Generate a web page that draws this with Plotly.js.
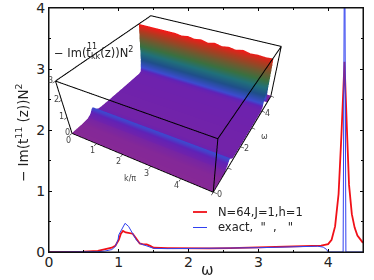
<!DOCTYPE html>
<html><head><meta charset="utf-8">
<script src="https://cdn.plot.ly/plotly-3.0.1.min.js"></script>
<style>html,body{margin:0;padding:0;background:#fff}#c{width:374px;height:280px}</style></head>
<body><div id="c"></div>
<script>
const redW=[0,0.3,0.5,0.7,0.8,0.9,0.95,1.0,1.03,1.06,1.1,1.15,1.2,1.25,1.3,1.35,1.4,1.45,1.5,1.7,2,2.3,2.6,3,3.3,3.6,3.9,4.0,4.05,4.1,4.15,4.19,4.235,4.27,4.3,4.34,4.38,4.42,4.46,4.5];
const redV=[0,0,0.005,0.02,0.04,0.07,0.1,0.2,0.3,0.345,0.32,0.315,0.3,0.22,0.14,0.125,0.125,0.1,0.07,0.065,0.06,0.06,0.065,0.075,0.085,0.095,0.105,0.13,0.2,0.42,0.95,1.9,3.12,2.0,1.1,0.62,0.4,0.27,0.2,0.15];
const blueW=[0,0.5,0.7,0.8,0.9,0.95,0.99,1.0,1.04,1.09,1.14,1.2,1.25,1.3,1.4,1.5,1.7,2,2.3,2.6,3,3.3,3.6,3.85,3.93,3.98,4.0,4.1,4.215,4.232,4.24,4.255,4.3,4.5];
const blueV=[0,0,0.005,0.015,0.04,0.09,0.2,0.28,0.36,0.47,0.42,0.3,0.2,0.14,0.1,0.06,0.055,0.055,0.06,0.065,0.07,0.08,0.09,0.095,0.08,0.04,0,0,0,4.5,4.5,0,0,0];
const kGrid=[0,0.25,0.5,0.75,1,1.25,1.5,1.75,2,2.25,2.5,2.75,3,3.25,3.5,3.75,4,4.25,4.5,4.75,5];
const peakByK=[1,1,1,1,1,1,1,0.98,1,0.98,1,0.97,1,0.97,0.99,0.97,1,0.97,0.98,0.97,0.98];
const omegaGrid=[0,0.5,0.8,0.95,1.05,1.12,1.2,1.35,1.5,2,3,3.9,4.0,4.08,4.12,4.16,4.2,4.24,4.28,4.35,4.5,5];
const omegaProfile=[0.02,0.03,0.08,0.2,0.4,0.45,0.3,0.13,0.1,0.1,0.11,0.13,0.2,0.9,1.7,2.5,3.0,2.5,1.3,0.3,0.1,0.05];
const surfZ=omegaProfile.map(p=>peakByK.map(f=>p>1?p*f:p));
const colorStops=[[0,'#8a2a92'],[0.035,'#6f22ac'],[0.09,'#5f22b8'],[0.15,'#3c4cd0'],[0.3,'#1f4f8a'],[0.45,'#20707a'],[0.58,'#3a7040'],[0.72,'#6e5a30'],[0.87,'#b03a20'],[1,'#f81818']];
const boxK=[0,0,5,5,null,0,0,5,5,null,5,5,null,0,5,5];
const boxW=[0,0,0,0,null,0,5,5,0,null,5,5,null,0,0,5];
const boxZ=[0,3,3,0,null,3,3,3,3,null,0,3,null,0,0,0];
const legendNames=['N=64,J=1,h=1','exact,  "  ,   "'];
const kTicks=[0,1,2,3,4],wTicks=[0,2,4],zTicks=[0,1,2,3];

const data=[
 {type:'scatter',mode:'lines',x:redW,y:redV,showlegend:false,line:{color:'#f01018',width:1.8}},
 {type:'scatter',mode:'lines',x:blueW,y:blueV,showlegend:false,line:{color:'#3040f0',width:1}},
 {type:'surface',x:kGrid,y:omegaGrid,z:surfZ,cmin:0,cmax:3,colorscale:colorStops,showscale:false,hoverinfo:'skip',
  lighting:{ambient:1,diffuse:0,specular:0,roughness:1,fresnel:0}},
 {type:'scatter3d',mode:'lines',x:boxK,y:boxW,z:boxZ,connectgaps:false,line:{color:'#000',width:2},showlegend:false,hoverinfo:'skip'}
];
const ax3={showbackground:false,showgrid:false,zeroline:false,showspikes:false,showline:false,ticks:'outside',ticklen:3,tickcolor:'#000',showticklabels:false,title:{text:''}};
const f='DejaVu Sans, sans-serif';
const axis={showline:true,mirror:'allticks',linecolor:'#111',linewidth:1,ticks:'inside',ticklen:3,tickcolor:'#000',zeroline:false,showgrid:false,ticklabeloverflow:'allow',tickfont:{size:14,color:'#222',family:f}};
const gray={size:8,color:'#444'};
const sAnn=(x,y,z,text,xs,ys)=>({x,y,z,text:String(text),showarrow:false,font:gray,xshift:xs,yshift:ys});
const px=v=>v/374,py=v=>1-v/280;
const note=(x,y,text,size,extra)=>({xref:'paper',yref:'paper',x:px(x),y:py(y),xanchor:'left',yanchor:'middle',showarrow:false,text,font:{size,color:'#222'},...extra});
const layout={
 width:374,height:280,margin:{l:0,r:0,t:0,b:0},paper_bgcolor:'#fff',plot_bgcolor:'#fff',font:{family:f},showlegend:false,
 xaxis:{...axis,domain:[px(49),px(363)],range:[0,4.5],ticklabelstandoff:-3,tickvals:[0,1,2,3,4],ticktext:['0','1','2','3','4'],minor:{dtick:0.5,ticks:'inside',ticklen:2,tickcolor:'#000'}},
 yaxis:{...axis,domain:[py(252),py(8)],range:[0,4],tickvals:[0,1,2,3,4],ticktext:['0','1','2','3','4'],minor:{dtick:0.5,ticks:'inside',ticklen:2,tickcolor:'#000'}},
 scene:{domain:{x:[0,1],y:[0,1]},bgcolor:'rgba(0,0,0,0)',aspectmode:'manual',aspectratio:{x:1.169,y:1.158,z:0.464},
  camera:{projection:{type:'perspective'},eye:{x:1.065,y:-1.825,z:1.478},center:{x:0.161,y:-0.141,z:-0.333},up:{x:0,y:0,z:1}},
  xaxis:{...ax3,range:[0,5],dtick:1},
  yaxis:{...ax3,range:[0,5],dtick:1},
  zaxis:{...ax3,range:[0,3],dtick:1},
  annotations:[
   ...kTicks.map(v=>sAnn(v,0,0,v,-4,-7)),
   sAnn(2.5,0,0,'k/π',-7,-18),
   ...wTicks.map(v=>sAnn(5,v,0,v,6,-2)),
   sAnn(5,2.5,0,'ω',18,1),
   ...zTicks.map(v=>sAnn(0,0,v,v,-5,1))
  ]},
 shapes:[
  {type:'rect',xref:'paper',yref:'paper',x0:px(49),x1:px(363),y0:py(252),y1:py(8),line:{color:'#111',width:1}},
  {type:'line',xref:'paper',yref:'paper',x0:px(193),x1:px(207),y0:py(212),y1:py(212),line:{color:'#f01018',width:1.8}},
  {type:'line',xref:'paper',yref:'paper',x0:px(193),x1:px(207),y0:py(227.5),y1:py(227.5),line:{color:'#3040f0',width:1}}
 ],
 annotations:[
  note(215.5,212,legendNames[0],11.5),
  note(215.5,227,legendNames[1],11.5),
  note(52,53,'− Im(t<sub>kk</sub>(z))N<sup>2</sup>',11.5),
  note(85,47,'11',8),
  note(207,270,'ω',15,{xanchor:'center'}),
  note(22,133,'− Im(t<sup>11</sup> (z))N<sup>2</sup>',13.5,{xanchor:'center',textangle:-90})
 ]
};
Plotly.newPlot('c',data,layout,{displayModeBar:false});
</script></body></html>
